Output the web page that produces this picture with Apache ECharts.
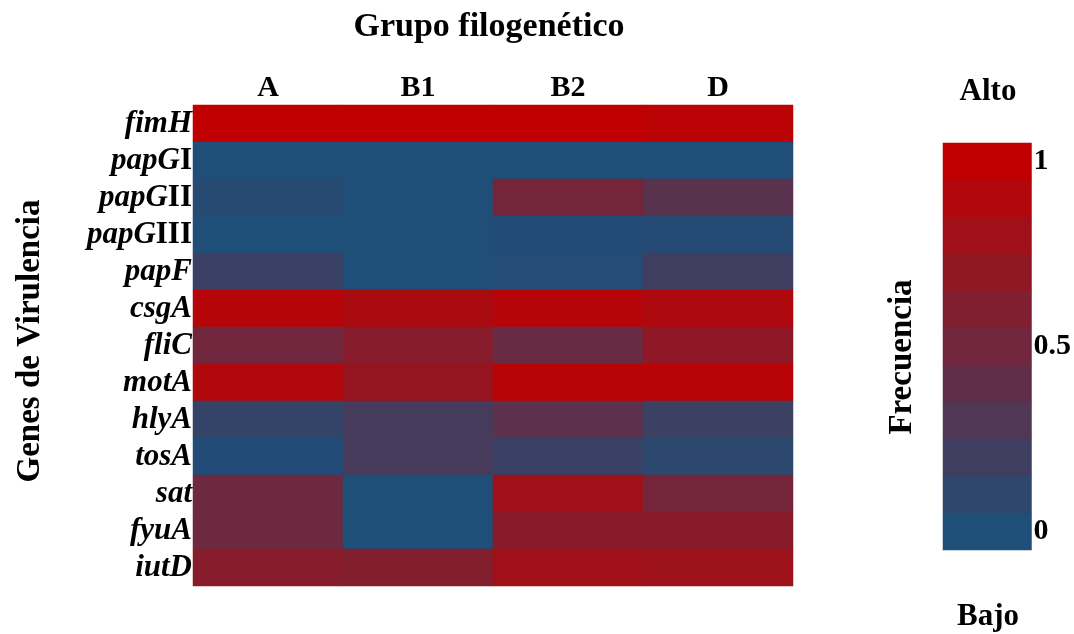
<!DOCTYPE html>
<html>
<head>
<meta charset="utf-8">
<title>Genes de virulencia por grupo filogenético</title>
<script src="https://cdn.jsdelivr.net/npm/echarts@6/dist/echarts.min.js"></script>
<style>
  html, body { margin: 0; padding: 0; background: #ffffff; }
  #chart { width: 1074px; height: 634px; }
</style>
</head>
<body>
<div id="chart"></div>
<script>
// Phylogenetic groups (columns) and virulence genes (rows)
const groups = ['A', 'B1', 'B2', 'D'];
const genes = ['fimH', 'papGI', 'papGII', 'papGIII', 'papF', 'csgA', 'fliC',
               'motA', 'hlyA', 'tosA', 'sat', 'fyuA', 'iutD'];

// Frequency of each gene within each group (same order as genes)
const freqA  = [1.00, 0.00, 0.05, 0.00, 0.17, 0.93, 0.50, 0.90, 0.13, 0.02, 0.48, 0.48, 0.64];
const freqB1 = [1.00, 0.00, 0.00, 0.00, 0.00, 0.86, 0.64, 0.74, 0.25, 0.25, 0.00, 0.00, 0.62];
const freqB2 = [1.00, 0.00, 0.53, 0.02, 0.03, 0.93, 0.45, 0.95, 0.37, 0.16, 0.80, 0.65, 0.80];
const freqD  = [0.97, 0.00, 0.36, 0.04, 0.20, 0.88, 0.69, 0.95, 0.18, 0.08, 0.53, 0.65, 0.78];

// Colour scale steps and the ticks written beside them
const scaleSteps = ['0', '0.1', '0.2', '0.3', '0.4', '0.5', '0.6', '0.7', '0.8', '0.9', '1'];
const scaleTicks = ['0', '0.5', '1'];

const columns = [freqA, freqB1, freqB2, freqD];
const cells = [];
columns.forEach((col, x) => col.forEach((v, y) => cells.push([x, y, v])));
const scaleCells = scaleSteps.map((s, i) => [0, i, Number(s)]);

const serif = '"Liberation Serif", "Times New Roman", serif';

// gene names: italic, roman numerals upright
function geneLabel(name) {
  const m = name.match(/^(papG)(I+)$/);
  if (m) return '{i|' + m[1] + '}{n|' + m[2] + '}';
  return '{i|' + name + '}';
}

const chart = echarts.init(document.getElementById('chart'));
chart.setOption({
  backgroundColor: '#ffffff',
  animation: false,
  grid: [
    // whole-pixel cells: 4 x 150 px wide, 13 x 37 px tall
    { left: 193, top: 105, width: 600, height: 481 },
    { left: 943, top: 143, width: 90, height: 407 }
  ],
  xAxis: [
    {
      gridIndex: 0, type: 'category', data: groups, position: 'top',
      axisLine: { show: false }, axisTick: { show: false }, splitLine: { show: false },
      axisLabel: { margin: 2, color: '#000', fontFamily: serif, fontWeight: 'bold', fontSize: 30 }
    },
    {
      gridIndex: 1, type: 'category', data: [''], show: false
    }
  ],
  yAxis: [
    {
      gridIndex: 0, type: 'category', data: genes, inverse: true,
      axisLine: { show: false }, axisTick: { show: false }, splitLine: { show: false },
      axisLabel: {
        margin: 1,
        formatter: geneLabel,
        rich: {
          i: { color: '#000', fontFamily: serif, fontWeight: 'bold', fontStyle: 'italic', fontSize: 31 },
          n: { color: '#000', fontFamily: serif, fontWeight: 'bold', fontSize: 31 }
        }
      }
    },
    {
      gridIndex: 1, type: 'category', data: scaleSteps, position: 'right',
      axisLine: { show: false }, axisTick: { show: false }, splitLine: { show: false },
      axisLabel: {
        margin: 2, interval: 0,
        color: '#000', fontFamily: serif, fontWeight: 'bold', fontSize: 30,
        formatter: v => (scaleTicks.indexOf(v) >= 0 ? v : '')
      }
    }
  ],
  visualMap: {
    type: 'continuous', show: false, min: 0, max: 1, seriesIndex: [0, 1],
    inRange: { color: ['#1F4E79', '#C00000'] }
  },
  series: [
    {
      type: 'heatmap', xAxisIndex: 0, yAxisIndex: 0, data: cells,
      itemStyle: { borderWidth: 0 }, emphasis: { disabled: true }
    },
    {
      type: 'heatmap', xAxisIndex: 1, yAxisIndex: 1, data: scaleCells,
      itemStyle: { borderWidth: 0 }, emphasis: { disabled: true }
    }
  ],
  graphic: [
    {
      type: 'text', x: 489, y: 27,
      style: { text: 'Grupo filogenético', font: 'bold 34px ' + serif, fill: '#000',
               textAlign: 'center', textVerticalAlign: 'middle' }
    },
    {
      type: 'text', x: 30, y: 341, rotation: Math.PI / 2,
      style: { text: 'Genes de Virulencia', font: 'bold 33px ' + serif, fill: '#000',
               textAlign: 'center', textVerticalAlign: 'middle' }
    },
    {
      type: 'text', x: 902, y: 357, rotation: Math.PI / 2,
      style: { text: 'Frecuencia', font: 'bold 33px ' + serif, fill: '#000',
               textAlign: 'center', textVerticalAlign: 'middle' }
    },
    {
      type: 'text', x: 988, y: 92,
      style: { text: 'Alto', font: 'bold 31px ' + serif, fill: '#000',
               textAlign: 'center', textVerticalAlign: 'middle' }
    },
    {
      type: 'text', x: 988, y: 617,
      style: { text: 'Bajo', font: 'bold 31px ' + serif, fill: '#000',
               textAlign: 'center', textVerticalAlign: 'middle' }
    }
  ]
});
</script>
</body>
</html>
